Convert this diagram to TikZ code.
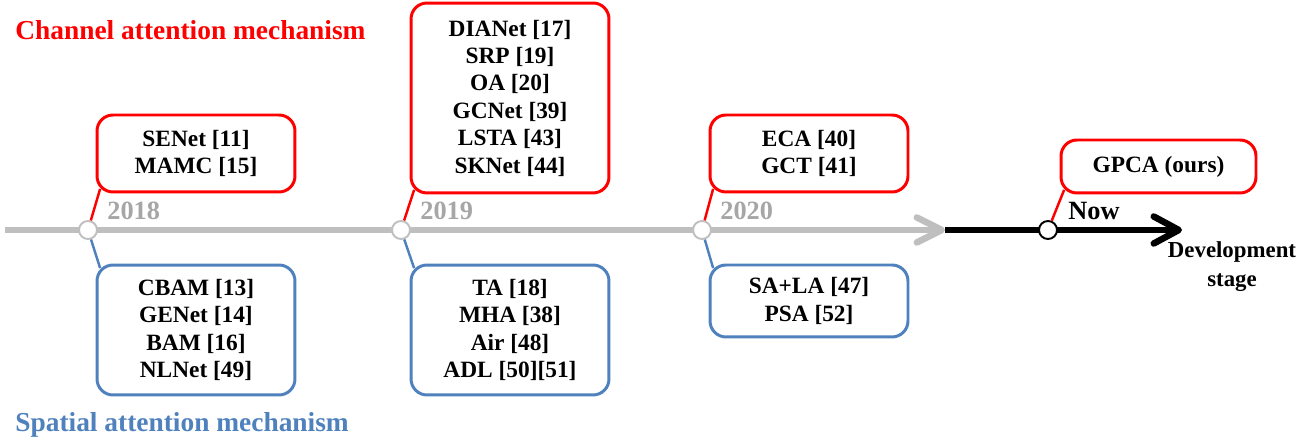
\documentclass[tikz,border=0pt]{standalone}
\usepackage{fontspec}
\setmainfont{Liberation Serif}
\usetikzlibrary{calc,arrows.meta}
\definecolor{chred}{RGB}{255,0,0}
\definecolor{spblue}{RGB}{79,129,189}
\definecolor{lgray}{RGB}{191,191,191}
\definecolor{ygray}{RGB}{166,166,166}
\tikzset{
	chbox/.style={draw=chred, line width=1.7pt, rounded corners=0.32cm, fill=white, minimum width=3.96cm, align=center, font=\fontsize{13.3}{15.6}\selectfont\bfseries},
	spbox/.style={chbox, draw=spblue},
	yeardot/.style={circle, draw=lgray, line width=1.1pt, fill=white, minimum size=0.36cm, inner sep=0pt},
	yearlbl/.style={anchor=west, inner sep=0pt, text=ygray, font=\fontsize{15}{18}\selectfont\bfseries},
	chline/.style={draw=chred, line width=1.4pt},
	spline/.style={draw=spblue, line width=1.4pt}
}

\begin{document}
\begin{tikzpicture}[x=0.02cm, y=-0.02cm]
			%%%%% START %%%%%
			\useasboundingbox (0, 0) rectangle (1314, 445);
			
			\coordinate (start) at (5, 230);
			\coordinate (mid) at (945, 230);
			\coordinate (stop) at (1182, 230);
			
			% time axis
			\draw[line width=0.13cm, -{Straight Barb[length=0.5cm, width=0.54cm, round]}] (mid) -- (stop);
			\draw[lgray, line width=0.13cm, -{Straight Barb[length=0.5cm, width=0.5cm, round]}] (start) -- (mid);
			
			\node[yeardot] (y18) at (88, 230) {};
			\node[yeardot] (y19) at (401, 230) {};
			\node[yeardot] (y20) at (702, 230) {};
			\node[yeardot, draw=black] (now) at (1048, 230) {};
			
			\node[yearlbl] at (107, 211) {2018};
			\node[yearlbl] at (420, 211) {2019};
			\node[yearlbl] at (720, 211) {2020};
			\node[yearlbl, text=black] at (1068, 211) {Now};
			
			\node[align=center, font=\fontsize{13}{16.4}\selectfont\bfseries] at (1232, 267) {Development\\stage};
			
			% channel attention
			\node[chbox, minimum height=1.54cm] (senet) at (196, 153.5) {SENet [11]\\MAMC [15]};
			\node[chbox, minimum height=3.8cm] (dianet) at (510, 98) {DIANet [17]\\SRP [19]\\OA [20]\\GCNet [39]\\LSTA [43]\\SKNet [44]};
			\node[chbox, minimum height=1.54cm] (eca) at (809, 153.5) {ECA [40]\\GCT [41]};
			\node[chbox, minimum width=3.9cm, minimum height=1.06cm] (gpca) at (1158.5, 166.5) {GPCA (ours)};
			
			% spatial attention
			\node[spbox, minimum height=2.6cm] (cbam) at (196, 330) {CBAM [13]\\GENet [14]\\BAM [16]\\NLNet [49]};
			\node[spbox, minimum height=2.6cm] (ta) at (510, 330) {TA [18]\\MHA [38]\\Air [48]\\ADL [50][51]};
			\node[spbox, minimum height=1.44cm] (sala) at (809, 301) {SA+LA [47]\\PSA [52]};
			
			\draw[chline] (y18) -- ($(senet.south west)+(4.6,-4.6)$);
			\draw[chline] (y19) -- ($(dianet.south west)+(4.6,-4.6)$);
			\draw[chline] (y20) -- ($(eca.south west)+(4.6,-4.6)$);
			\draw[chline] (now) -- ($(gpca.south west)+(4.6,-4.6)$);
			\draw[spline] (y18) -- ($(cbam.north west)+(4.6,4.6)$);
			\draw[spline] (y19) -- ($(ta.north west)+(4.6,4.6)$);
			\draw[spline] (y20) -- ($(sala.north west)+(4.6,4.6)$);
			
			\node[anchor=west, inner sep=0pt, text=chred, font=\fontsize{15.6}{18}\selectfont\bfseries] at (15, 30) {Channel attention mechanism};
			\node[anchor=west, inner sep=0pt, text=spblue, font=\fontsize{15.6}{18}\selectfont\bfseries] at (15, 425) {Spatial attention mechanism};
			%%%%% END %%%%%
\end{tikzpicture}
\end{document}
